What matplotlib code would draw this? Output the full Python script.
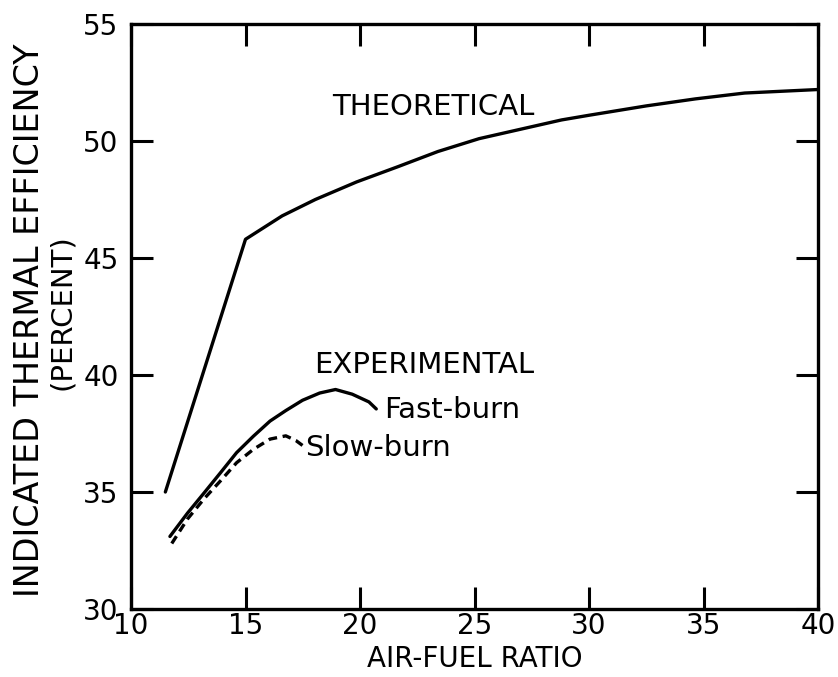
import matplotlib
matplotlib.use("Agg")
import matplotlib.pyplot as plt

# Data
theo_x = [11.5, 15.0, 16.6, 18.05, 19.85, 21.65, 23.4, 25.2, 27.0, 28.8, 30.0, 32.5, 34.65, 36.8, 40.0]
theo_y = [35.0, 45.8, 46.8, 47.5, 48.25, 48.9, 49.55, 50.1, 50.5, 50.9, 51.1, 51.5, 51.8, 52.05, 52.2]

fast_x = [11.70, 12.47, 13.20, 13.93, 14.61, 15.34, 16.07, 16.76, 17.49, 18.24, 18.93, 19.66, 20.39, 20.71]
fast_y = [33.10, 34.10, 34.97, 35.85, 36.68, 37.38, 38.03, 38.48, 38.92, 39.23, 39.38, 39.18, 38.85, 38.55]

slow_x = [11.78, 12.47, 13.20, 13.93, 14.61, 15.34, 16.07, 16.76, 17.20, 17.49]
slow_y = [32.80, 33.85, 34.72, 35.50, 36.25, 36.82, 37.26, 37.40, 37.20, 36.99]

x_ticks = [10, 15, 20, 25, 30, 35, 40]
y_ticks = [30, 35, 40, 45, 50, 55]

plt.rcParams['font.family'] = ['DejaVu Sans']

fig = plt.figure(figsize=(8.38, 6.77), dpi=100)
ax = fig.add_axes([131/838, 1 - 609/677, (818-131)/838, (609-24)/677])

lw = 2.4
ax.plot(theo_x, theo_y, color='black', lw=lw, solid_capstyle='round', solid_joinstyle='round')
ax.plot(fast_x, fast_y, color='black', lw=lw, solid_capstyle='round', solid_joinstyle='round')
ax.plot(slow_x, slow_y, color='black', lw=lw, ls=(0, (2.6, 1.7)))

ax.set_xlim(10, 40)
ax.set_ylim(30, 55)
ax.set_xticks(x_ticks)
ax.set_yticks(y_ticks)
ax.set_xticklabels([str(v) for v in x_ticks])
ax.set_yticklabels([str(v) for v in y_ticks])

for s in ax.spines.values():
    s.set_linewidth(2.4)

ax.tick_params(direction='in', length=16, width=2.2, top=True, right=True,
               labelsize=20)
ax.tick_params(axis='y', pad=9)
ax.tick_params(axis='x', pad=2)

ax.set_xlabel("AIR-FUEL RATIO", fontsize=20)
ax.xaxis.set_label_coords(0.5, -0.085)
ax.xaxis.label.set_va('center')

fig.text(30/838, 1 - 320/677, "INDICATED THERMAL EFFICIENCY", rotation=90,
         ha='center', va='center', fontsize=24)
fig.text(62/838, 1 - 312/677, "(PERCENT)", rotation=90,
         ha='center', va='center', fontsize=21)

ax.text(23.2, 51.45, "THEORETICAL", fontsize=21, ha='center', va='center')
ax.text(22.8, 40.43, "EXPERIMENTAL", fontsize=21, ha='center', va='center')
ax.text(21.05, 38.5, "Fast-burn", fontsize=21, ha='left', va='center')
ax.text(17.6, 36.88, "Slow-burn", fontsize=21, ha='left', va='center')

fig.savefig("out.png", dpi=100)
